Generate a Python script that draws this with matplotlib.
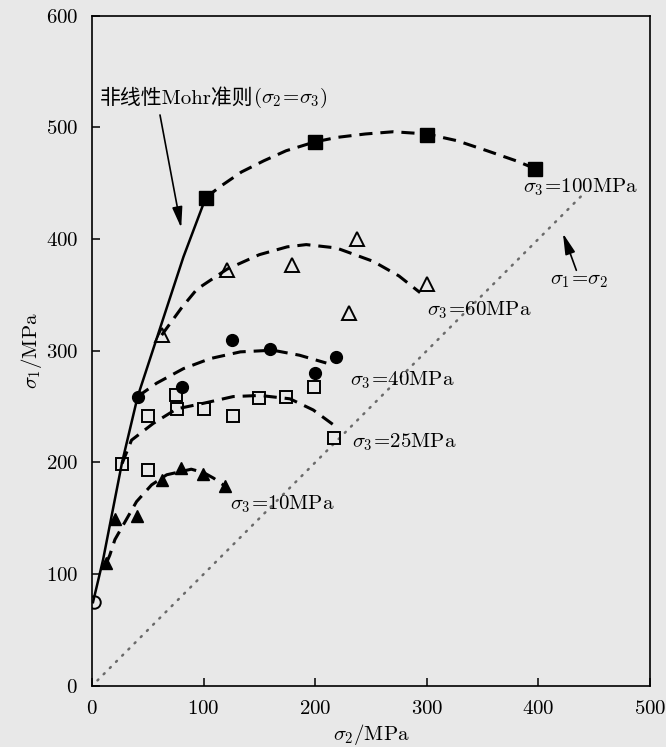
import matplotlib
matplotlib.use("Agg")
import matplotlib.pyplot as plt

plt.rcParams['font.family'] = ['cmr10', 'Noto Sans CJK SC', 'DejaVu Sans']
plt.rcParams['mathtext.fontset'] = 'cm'
plt.rcParams['axes.unicode_minus'] = False
plt.rcParams['axes.formatter.use_mathtext'] = True

# ---------------- data ----------------
# uniaxial point
uni_x = [2]
uni_y = [75]

# sigma3 = 10 MPa (filled triangles)
s10_x = [13, 20.6, 40.6, 62.5, 80, 99.7, 119.5]
s10_y = [110, 149, 152, 184, 195, 190, 179]
s10_cx = [13, 16, 20.6, 40, 53.5, 67, 89, 100, 109, 119]
s10_cy = [110, 117, 131, 165, 180, 189, 194, 191, 186, 179]

# sigma3 = 25 MPa (open squares)
s25_x = [27, 50.5, 50.5, 75, 76, 100, 126, 150, 174, 199, 217]
s25_y = [199, 242, 193, 260, 248, 248, 242, 258, 259, 268, 222]
s25_cx = [27, 35.5, 55, 76, 100, 126.6, 150.5, 177.4, 198.3, 216]
s25_cy = [199, 220, 235, 248, 253, 259, 260, 257, 247, 234]

# sigma3 = 40 MPa (filled circles)
s40_x = [41, 81, 125.7, 159.5, 200, 218.6]
s40_y = [259, 268, 309.5, 301.4, 279.7, 294.5]
s40_cx = [41, 58, 82, 106, 133, 162, 186, 210]
s40_cy = [259, 271, 284, 293, 299, 300.5, 296, 289]

# sigma3 = 60 MPa (open triangles)
s60_x = [62.5, 120.7, 179.5, 237.7, 230.6, 300]
s60_y = [314, 372.7, 377, 400.4, 334, 359.3]
s60_cx = [62.5, 80, 94, 121, 150, 175, 192, 219, 252, 275, 294]
s60_cy = [314, 338, 355, 373, 386, 393, 395, 392, 380, 367, 352]

# sigma3 = 100 MPa (filled squares)
s100_x = [102, 199.8, 300, 397]
s100_y = [437, 487, 493, 463]
s100_cx = [102, 115, 134, 154, 174, 200, 220, 245, 270, 300, 327, 354, 380, 397]
s100_cy = [437, 447, 460, 470, 479, 487, 491, 494, 496, 494, 488, 479, 470, 463]

# nonlinear Mohr criterion (sigma2 = sigma3)
mohr_x = [1, 10, 27, 41, 61, 82, 102]
mohr_y = [75, 113, 200, 259, 320, 384, 437]

# sigma1 = sigma2 line
eq_x = [5, 440]
eq_y = [5, 440]

xticks = [0, 100, 200, 300, 400, 500]
yticks = [0, 100, 200, 300, 400, 500, 600]

# ---------------- figure ----------------
bg = '#e8e8e8'
fig = plt.figure(figsize=(6.66, 7.47), dpi=100, facecolor=bg)
ax = fig.add_axes([0.138, 0.0817, 0.838, 0.8975], facecolor=bg)

dash = (0, (4.3, 2.6))
clw = 2.2

ax.plot(eq_x, eq_y, color='#6a6a6a', lw=1.8, linestyle=(0, (0.5, 3.0)),
        dash_capstyle='round')
ax.plot(mohr_x, mohr_y, color='k', lw=1.8)

ax.plot(s10_cx, s10_cy, color='k', lw=clw, linestyle=dash)
ax.plot(s25_cx, s25_cy, color='k', lw=clw, linestyle=dash)
ax.plot(s40_cx, s40_cy, color='k', lw=clw, linestyle=dash)
ax.plot(s60_cx, s60_cy, color='k', lw=clw, linestyle=dash)
ax.plot(s100_cx, s100_cy, color='k', lw=clw, linestyle=dash)

ax.plot(uni_x, uni_y, 'o', ms=9, mfc='none', mec='k', mew=1.4)
ax.plot(s10_x, s10_y, '^', ms=8.5, mfc='k', mec='k', ls='none')
ax.plot(s25_x, s25_y, 's', ms=9, mfc='none', mec='k', mew=1.4, ls='none')
ax.plot(s40_x, s40_y, 'o', ms=8.5, mfc='k', mec='k', ls='none')
ax.plot(s60_x, s60_y, '^', ms=9.5, mfc='none', mec='k', mew=1.4, ls='none')
ax.plot(s100_x, s100_y, 's', ms=9.5, mfc='k', mec='k', ls='none')

fs = 15
ax.text(386, 446, r'$\sigma_3\!=\!100\mathrm{MPa}$', fontsize=fs, va='center', ha='left')
ax.text(300, 336, r'$\sigma_3\!=\!60\mathrm{MPa}$', fontsize=fs, va='center', ha='left')
ax.text(231, 274, r'$\sigma_3\!=\!40\mathrm{MPa}$', fontsize=fs, va='center', ha='left')
ax.text(233, 218, r'$\sigma_3\!=\!25\mathrm{MPa}$', fontsize=fs, va='center', ha='left')
ax.text(124, 163, r'$\sigma_3\!=\!10\mathrm{MPa}$', fontsize=fs, va='center', ha='left')
ax.text(410, 362, r'$\sigma_1\!=\!\sigma_2$', fontsize=fs, va='center', ha='left')

t1 = ax.text(7, 526, '非线性Mohr准则', fontsize=fs, va='center', ha='left',
             family=['cmr10', 'Noto Sans CJK SC'])
ax.annotate(r'$(\sigma_2\!=\!\sigma_3)$', xy=(1, 0.5), xycoords=t1,
            fontsize=fs, va='center', ha='left')

arrow = dict(arrowstyle='-|>,head_length=0.9,head_width=0.22', lw=1.2, color='k',
             shrinkA=0, shrinkB=0, mutation_scale=14)
ax.annotate('', xy=(80, 410), xytext=(61, 511), arrowprops=arrow)
ax.annotate('', xy=(422, 405), xytext=(434, 372), arrowprops=arrow)

ax.set_xlim(0, 500)
ax.set_ylim(0, 600)
ax.set_xticks(xticks)
ax.set_yticks(yticks)
ax.tick_params(direction='in', length=6, width=1.1, labelsize=fs,
               top=False, right=False)
ax.tick_params(axis='x', pad=10)
ax.tick_params(axis='y', pad=10)
for s in ax.spines.values():
    s.set_linewidth(1.2)

ax.set_xlabel(r'$\sigma_2/\mathrm{MPa}$', fontsize=fs, labelpad=3)
ax.set_ylabel(r'$\sigma_1/\mathrm{MPa}$', fontsize=fs, labelpad=1)

fig.savefig('out.png', dpi=100, facecolor=bg)
